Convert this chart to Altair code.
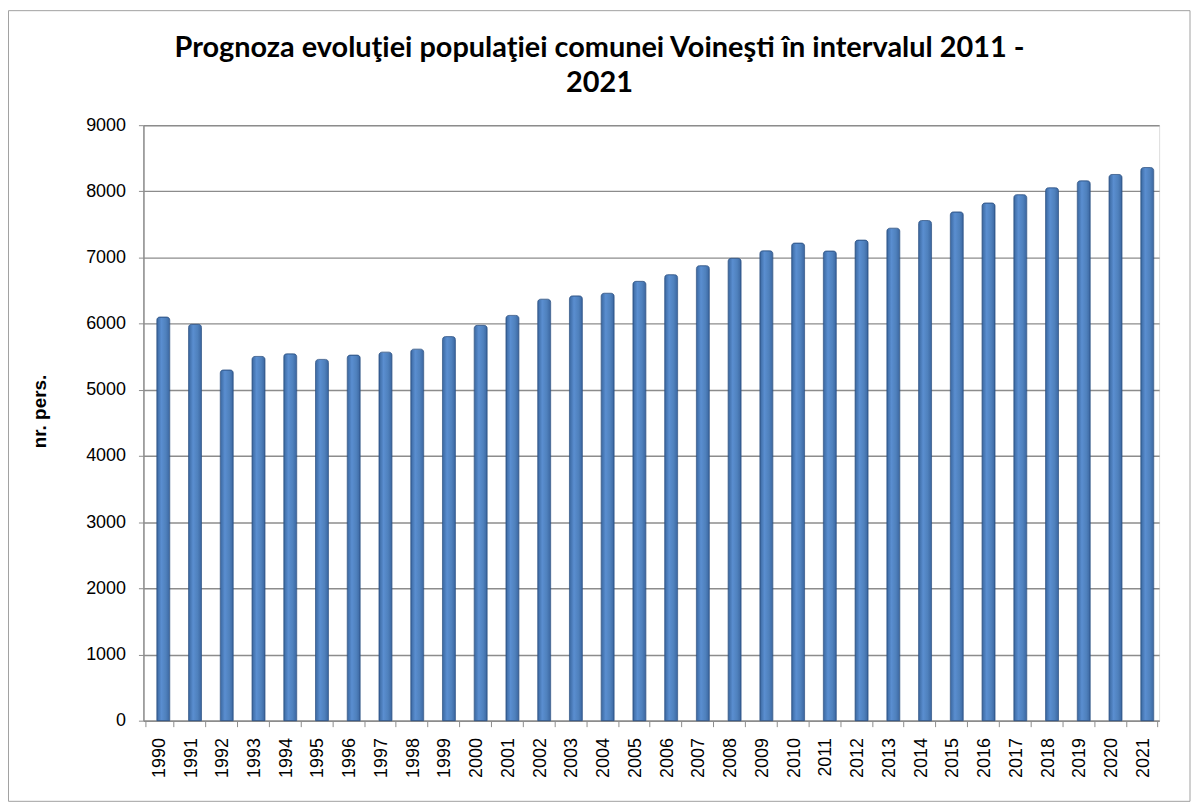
import altair as alt
import pandas as pd

years = [str(y) for y in range(1990, 2022)]
population = [6100, 5990, 5300, 5505, 5545, 5460, 5525, 5570, 5615, 5805,
              5975, 6125, 6370, 6420, 6460, 6640, 6741, 6877, 6988, 7102,
              7218, 7098, 7263, 7443, 7559, 7689, 7824, 7950, 8055, 8160,
              8255, 8360]
y_ticks = [0, 1000, 2000, 3000, 4000, 5000, 6000, 7000, 8000, 9000]
title_lines = ["Prognoza evoluţiei populaţiei comunei Voineşti în intervalul 2011 -", "2021"]

df = pd.DataFrame({"year": years, "pop": population})

bar_fill = alt.Gradient(
    gradient="linear", x1=0, x2=1, y1=0, y2=0,
    stops=[alt.GradientStop(color="#3A679F", offset=0),
           alt.GradientStop(color="#5A8ED0", offset=0.35),
           alt.GradientStop(color="#4F81BD", offset=0.7),
           alt.GradientStop(color="#3B66A0", offset=1)],
)

bars = alt.Chart(df).mark_bar(
    fill=bar_fill, stroke="#2F5487", strokeWidth=0.8, width=13, xOffset=4,
    cornerRadiusTopLeft=3, cornerRadiusTopRight=3,
).encode(
    x=alt.X("year:N", sort=years, title=None,
            axis=alt.Axis(labelAngle=-90, labelFont="Liberation Sans", labelFontSize=18,
                          labelColor="#000000", tickBand="extent", tickColor="#8C8C8C",
                          tickSize=6, domainColor="#8C8C8C", domainWidth=1.5,
                          labelPadding=11)),
    y=alt.Y("pop:Q", title="nr. pers.",
            scale=alt.Scale(domain=[0, 9000], nice=False),
            axis=alt.Axis(values=y_ticks, format="d", labelFont="Liberation Sans",
                          labelFontSize=18, labelColor="#000000", tickColor="#8C8C8C",
                          tickSize=5, domainColor="#8C8C8C", domainWidth=1.5,
                          gridColor="#8C8C8C", gridWidth=1.4,
                          titleFont="Liberation Sans", titleFontSize=19,
                          titleFontWeight="bold", titleColor="#000000", titlePadding=36,
                          titleY=287, labelPadding=13)),
)

border = alt.Chart(pd.DataFrame({"a": [0]})).mark_rect(
    fill=None, stroke="#A0A0A0", strokeWidth=1
).encode(
    x=alt.value(-135.5), x2=alt.value(1051), y=alt.value(-115), y2=alt.value(679)
)

title_df = pd.DataFrame({"t": title_lines, "line": [0, 1]})
title1 = alt.Chart(title_df.iloc[[0]]).mark_text(
    font="Lato", fontSize=29, fontWeight="bold", color="#000000",
    align="center", baseline="alphabetic",
).encode(text="t:N", x=alt.value(458), y=alt.value(-68))
title2 = alt.Chart(title_df.iloc[[1]]).mark_text(
    font="Lato", fontSize=29, fontWeight="bold", color="#000000",
    align="center", baseline="alphabetic",
).encode(text="t:N", x=alt.value(458), y=alt.value(-33))

chart = alt.layer(border, bars, title1, title2).properties(
    width=1020, height=598,
    autosize=alt.AutoSizeParams(type="none"),
    padding={"left": 136, "top": 116, "right": 33, "bottom": 80},
).configure_view(stroke=None).configure(background="white")

chart.save("out.html", embed_options={"renderer": "svg", "actions": False})
